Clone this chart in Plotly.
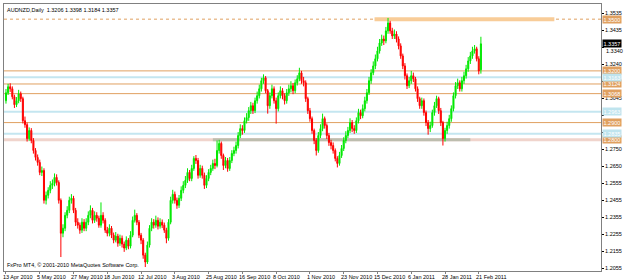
import plotly.graph_objects as go

# ---- data (AUDNZD daily) ----
opens = [1.3027,1.3073,1.3108,1.3096,1.3050,1.3004,1.3027,1.3067,1.3039,1.2911,
1.2888,1.2807,1.2854,1.2796,1.2738,1.2698,1.2669,1.2611,1.2622,1.2449,
1.2478,1.2507,1.2536,1.2547,1.2582,1.2553,1.2449,1.2258,1.2287,1.2362,
1.2391,1.2449,1.2461,1.2391,1.2322,1.2305,1.2276,1.2322,1.2287,1.2322,
1.2362,1.2391,1.2333,1.2362,1.2345,1.2305,1.2362,1.2333,1.2276,1.2258,
1.2287,1.2247,1.2218,1.2241,1.2200,1.2229,1.2195,1.2172,1.2218,1.2183,
1.2247,1.2333,1.2362,1.2322,1.2247,1.2218,1.2131,1.2091,1.2189,1.2287,
1.2322,1.2305,1.2333,1.2299,1.2322,1.2305,1.2276,1.2229,1.2322,1.2449,
1.2484,1.2449,1.2420,1.2461,1.2507,1.2536,1.2565,1.2611,1.2576,1.2634,
1.2692,1.2680,1.2594,1.2634,1.2594,1.2536,1.2576,1.2611,1.2634,1.2663,
1.2651,1.2738,1.2779,1.2709,1.2651,1.2680,1.2634,1.2680,1.2721,1.2738,
1.2767,1.2825,1.2865,1.2854,1.2911,1.2929,1.2969,1.2998,1.2969,1.3027,
1.3056,1.3096,1.3143,1.3160,1.3085,1.2998,1.3056,1.3096,1.3027,1.2981,
1.3056,1.3085,1.3056,1.3027,1.3073,1.3096,1.3114,1.3085,1.3131,1.3154,
1.3189,1.3143,1.3131,1.3039,1.2969,1.2923,1.2854,1.2796,1.2738,1.2825,
1.2865,1.2923,1.2883,1.2825,1.2784,1.2767,1.2738,1.2692,1.2663,1.2709,
1.2750,1.2796,1.2825,1.2854,1.2900,1.2865,1.2854,1.2911,1.2958,1.2940,
1.2981,1.3027,1.3073,1.3143,1.3189,1.3229,1.3270,1.3316,1.3362,1.3385,
1.3374,1.3432,1.3478,1.3432,1.3403,1.3414,1.3385,1.3345,1.3287,1.3229,
1.3172,1.3114,1.3143,1.3172,1.3154,1.3096,1.3039,1.2998,1.3027,1.2958,
1.2900,1.2865,1.2883,1.2958,1.2998,1.3039,1.2969,1.2900,1.2807,1.2854,
1.2883,1.2923,1.2981,1.3056,1.3114,1.3131,1.3096,1.3143,1.3172,1.3212,
1.3258,1.3287,1.3316,1.3328,1.3270,1.3206]

closes = [1.3073,1.3108,1.3096,1.3050,1.3004,1.3027,1.3067,1.3039,1.2911,1.2888,
1.2807,1.2854,1.2796,1.2738,1.2698,1.2669,1.2611,1.2622,1.2449,1.2478,
1.2507,1.2536,1.2547,1.2582,1.2553,1.2449,1.2258,1.2287,1.2362,1.2391,
1.2449,1.2461,1.2391,1.2322,1.2305,1.2276,1.2322,1.2287,1.2322,1.2362,
1.2391,1.2333,1.2362,1.2345,1.2305,1.2362,1.2333,1.2276,1.2258,1.2287,
1.2247,1.2218,1.2241,1.2200,1.2229,1.2195,1.2172,1.2218,1.2183,1.2247,
1.2333,1.2362,1.2322,1.2247,1.2218,1.2131,1.2091,1.2189,1.2287,1.2322,
1.2305,1.2333,1.2299,1.2322,1.2305,1.2276,1.2229,1.2322,1.2449,1.2484,
1.2449,1.2420,1.2461,1.2507,1.2536,1.2565,1.2611,1.2576,1.2634,1.2692,
1.2680,1.2594,1.2634,1.2594,1.2536,1.2576,1.2611,1.2634,1.2663,1.2651,
1.2738,1.2779,1.2709,1.2651,1.2680,1.2634,1.2680,1.2721,1.2738,1.2767,
1.2825,1.2865,1.2854,1.2911,1.2929,1.2969,1.2998,1.2969,1.3027,1.3056,
1.3096,1.3143,1.3160,1.3085,1.2998,1.3056,1.3096,1.3027,1.2981,1.3056,
1.3085,1.3056,1.3027,1.3073,1.3096,1.3114,1.3085,1.3131,1.3154,1.3189,
1.3143,1.3131,1.3039,1.2969,1.2923,1.2854,1.2796,1.2738,1.2825,1.2865,
1.2923,1.2883,1.2825,1.2784,1.2767,1.2738,1.2692,1.2663,1.2709,1.2750,
1.2796,1.2825,1.2854,1.2900,1.2865,1.2854,1.2911,1.2958,1.2940,1.2981,
1.3027,1.3073,1.3143,1.3189,1.3229,1.3270,1.3316,1.3362,1.3385,1.3374,
1.3432,1.3478,1.3432,1.3403,1.3414,1.3385,1.3345,1.3287,1.3229,1.3172,
1.3114,1.3143,1.3172,1.3154,1.3096,1.3039,1.2998,1.3027,1.2958,1.2900,
1.2865,1.2883,1.2958,1.2998,1.3039,1.2969,1.2900,1.2807,1.2854,1.2883,
1.2923,1.2981,1.3056,1.3114,1.3131,1.3096,1.3143,1.3172,1.3212,1.3258,
1.3287,1.3316,1.3328,1.3270,1.3200,1.3357]

highs = [1.3095,1.3125,1.3128,1.3110,1.3062,1.3048,1.3090,1.3080,1.3050,1.2935,
1.2900,1.2872,1.2868,1.2810,1.2752,1.2715,1.2685,1.2645,1.2635,1.2500,
1.2525,1.2560,1.2570,1.2605,1.2600,1.2565,1.2460,1.2310,1.2380,1.2415,
1.2470,1.2485,1.2475,1.2405,1.2345,1.2320,1.2345,1.2340,1.2345,1.2385,
1.2420,1.2405,1.2385,1.2380,1.2360,1.2437,1.2380,1.2345,1.2295,1.2310,
1.2300,1.2262,1.2265,1.2255,1.2250,1.2245,1.2210,1.2240,1.2230,1.2270,
1.2355,1.2395,1.2375,1.2335,1.2260,1.2230,1.2145,1.2210,1.2305,1.2345,
1.2340,1.2360,1.2350,1.2345,1.2338,1.2320,1.2290,1.2340,1.2470,1.2510,
1.2500,1.2465,1.2480,1.2530,1.2560,1.2590,1.2635,1.2625,1.2655,1.2705,
1.2712,1.2695,1.2655,1.2650,1.2610,1.2595,1.2630,1.2655,1.2685,1.2690,
1.2796,1.2800,1.2790,1.2720,1.2700,1.2695,1.2700,1.2740,1.2760,1.2790,
1.2845,1.2890,1.2885,1.2930,1.2955,1.2990,1.3020,1.3015,1.3045,1.3080,
1.3120,1.3160,1.3180,1.3170,1.3095,1.3075,1.3120,1.3110,1.3045,1.3075,
1.3110,1.3100,1.3070,1.3095,1.3120,1.3140,1.3130,1.3150,1.3175,1.3218,
1.3200,1.3165,1.3145,1.3050,1.2985,1.2935,1.2865,1.2810,1.2845,1.2890,
1.2952,1.2935,1.2895,1.2840,1.2800,1.2785,1.2750,1.2705,1.2730,1.2770,
1.2815,1.2850,1.2875,1.2925,1.2915,1.2885,1.2930,1.2980,1.2975,1.3005,
1.3050,1.3095,1.3165,1.3210,1.3255,1.3295,1.3340,1.3385,1.3410,1.3405,
1.3455,1.3507,1.3490,1.3450,1.3440,1.3430,1.3400,1.3360,1.3300,1.3245,
1.3185,1.3165,1.3200,1.3190,1.3165,1.3110,1.3050,1.3045,1.3040,1.2970,
1.2915,1.2905,1.2975,1.3020,1.3056,1.3050,1.2985,1.2910,1.2870,1.2905,
1.2945,1.3000,1.3075,1.3135,1.3155,1.3145,1.3165,1.3195,1.3235,1.3280,
1.3310,1.3340,1.3350,1.3340,1.3285,1.3398]

lows = [1.3010,1.3060,1.3078,1.3035,1.2985,1.2990,1.3012,1.3020,1.2895,1.2870,
1.2790,1.2795,1.2780,1.2720,1.2680,1.2650,1.2595,1.2590,1.2430,1.2425,
1.2460,1.2490,1.2515,1.2530,1.2535,1.2430,1.2120,1.2235,1.2270,1.2345,
1.2375,1.2430,1.2375,1.2300,1.2285,1.2255,1.2260,1.2270,1.2270,1.2305,
1.2345,1.2315,1.2318,1.2325,1.2290,1.2290,1.2315,1.2260,1.2240,1.2240,
1.2230,1.2200,1.2205,1.2180,1.2185,1.2175,1.2150,1.2160,1.2165,1.2170,
1.2235,1.2320,1.2305,1.2230,1.2195,1.2110,1.2062,1.2080,1.2175,1.2270,
1.2285,1.2290,1.2280,1.2285,1.2288,1.2260,1.2200,1.2215,1.2310,1.2430,
1.2430,1.2400,1.2405,1.2445,1.2490,1.2520,1.2550,1.2560,1.2560,1.2620,
1.2660,1.2575,1.2580,1.2575,1.2515,1.2520,1.2560,1.2595,1.2620,1.2630,
1.2640,1.2720,1.2690,1.2625,1.2635,1.2615,1.2620,1.2665,1.2705,1.2720,
1.2750,1.2810,1.2830,1.2840,1.2895,1.2910,1.2950,1.2950,1.2955,1.3010,
1.3040,1.3080,1.3125,1.3070,1.2952,1.2980,1.3040,1.3010,1.2894,1.2965,
1.3040,1.3035,1.3005,1.3010,1.3055,1.3075,1.3065,1.3070,1.3115,1.3140,
1.3125,1.3110,1.3020,1.2950,1.2905,1.2835,1.2775,1.2709,1.2725,1.2810,
1.2850,1.2865,1.2805,1.2765,1.2745,1.2720,1.2675,1.2640,1.2650,1.2695,
1.2735,1.2780,1.2810,1.2840,1.2845,1.2835,1.2840,1.2895,1.2920,1.2925,
1.2965,1.3010,1.3060,1.3125,1.3175,1.3210,1.3255,1.3300,1.3345,1.3350,
1.3360,1.3415,1.3415,1.3385,1.3385,1.3365,1.3325,1.3270,1.3210,1.3150,
1.3095,1.3100,1.3125,1.3135,1.3080,1.3020,1.2980,1.2980,1.2940,1.2880,
1.2830,1.2845,1.2870,1.2940,1.2985,1.2950,1.2880,1.2767,1.2790,1.2835,
1.2865,1.2905,1.2965,1.3040,1.3095,1.3080,1.3080,1.3125,1.3155,1.3195,
1.3240,1.3270,1.3300,1.3255,1.3180,1.3184]

date_labels = ["13 Apr 2010", "5 May 2010", "27 May 2010", "18 Jun 2010", "12 Jul 2010",
               "3 Aug 2010", "25 Aug 2010", "16 Sep 2010", "8 Oct 2010", "1 Nov 2010",
               "23 Nov 2010", "15 Dec 2010", "6 Jan 2011", "28 Jan 2011", "21 Feb 2011"]
bars_per_label = 16

# labels hidden under the level boxes in the reference are left blank;
# the 1.3340 label peeks out below the last-price box and is drawn separately
price_tick_vals = [1.2055, 1.2154, 1.2252, 1.2351, 1.2450, 1.2548, 1.2647, 1.2746,
                   1.2845, 1.2943, 1.3042, 1.3141, 1.3239, 1.3338, 1.3437, 1.3535]
price_tick_text = ["1.2055", "1.2155", "1.2255", "1.2355", "1.2455", "1.2555", "1.2650", "1.2750",
                   "", "", "1.3045", "", "1.3240", "", "1.3435", "1.3535"]
peek_tick_val = 1.3338
peek_tick_text = "1.3340"

orange_levels = [1.3500, 1.3200, 1.3124, 1.3068, 1.2900, 1.2800]
blue_levels = [1.3163, 1.2963, 1.2835]
last_price = 1.3357
symbol_title = "AUDNZD,Daily  1.3206 1.3398 1.3184 1.3357"
copyright_text = "FxPro MT4, © 2001-2010 MetaQuotes Software Corp."

# ---- figure ----
n = len(closes)
xs = list(range(n))
FONT = "Liberation Sans"
ORANGE = "#E0A060"
BLUE = "#C4E6F0"

fig = go.Figure()
fig.add_trace(go.Candlestick(
    x=xs, open=opens, high=highs, low=lows, close=closes,
    increasing=dict(line=dict(color="#00E800", width=1), fillcolor="#00E800"),
    decreasing=dict(line=dict(color="#FF0000", width=1), fillcolor="#FF0000"),
    whiskerwidth=0, hoverinfo="skip", showlegend=False,
))

shapes = []
shapes.append(dict(type="line", xref="paper", x0=0, x1=1, y0=1.2800, y1=1.2800,
                   line=dict(color="#F0D4CC", width=3), layer="below"))
shapes.append(dict(type="line", xref="x", x0=98, x1=220, y0=1.2800, y1=1.2800,
                   line=dict(color="#BDBDAE", width=3), layer="below"))
shapes.append(dict(type="line", xref="paper", x0=0, x1=1, y0=1.3500, y1=1.3500,
                   line=dict(color=ORANGE, width=1, dash="dot"), layer="below"))
shapes.append(dict(type="line", xref="x", x0=174.6, x1=259.8, y0=1.3500, y1=1.3500,
                   line=dict(color="#F8CC98", width=4), layer="below"))
for lv in orange_levels[1:5]:
    shapes.append(dict(type="line", xref="paper", x0=0, x1=1, y0=lv, y1=lv,
                       line=dict(color=ORANGE, width=1), layer="below"))
for lv in blue_levels:
    shapes.append(dict(type="line", xref="paper", x0=0, x1=1, y0=lv, y1=lv,
                       line=dict(color=BLUE, width=2), layer="below"))

annotations = []
annotations.append(dict(xref="paper", yref="paper", x=0, y=1, xanchor="left", yanchor="top",
                        xshift=1, yshift=-1, text=symbol_title, showarrow=False,
                        font=dict(family=FONT, size=5.5, color="#000000")))
annotations.append(dict(xref="paper", yref="paper", x=0, y=0, xanchor="left", yanchor="bottom",
                        xshift=1, yshift=1, text=copyright_text, showarrow=False,
                        font=dict(family=FONT, size=5.5, color="#000000")))
for k, lab in enumerate(date_labels):
    annotations.append(dict(xref="x", yref="paper", x=k * bars_per_label, y=0,
                            xanchor="left", yanchor="top", xshift=-5, yshift=-0.5,
                            text=lab, showarrow=False,
                            font=dict(family=FONT, size=5.5, color="#000000")))
annotations.append(dict(xref="paper", yref="y", x=1, y=peek_tick_val, xanchor="left",
                        yanchor="middle", xshift=3, yshift=-4, text=peek_tick_text,
                        showarrow=False, font=dict(family=FONT, size=5.5, color="#000000")))
for lv in orange_levels:
    annotations.append(dict(xref="paper", yref="y", x=1, y=lv, xanchor="left", yanchor="middle",
                            xshift=1, text=f"{lv:.4f}", showarrow=False, bgcolor="#E0A060",
                            borderpad=0.5, font=dict(family=FONT, size=5.5, color="#FFFFFF")))
for lv in blue_levels:
    annotations.append(dict(xref="paper", yref="y", x=1, y=lv, xanchor="left", yanchor="middle",
                            xshift=1, text=f"{lv:.4f}", showarrow=False, bgcolor="#BFE4EE",
                            borderpad=0.5, font=dict(family=FONT, size=5.5, color="#FFFFFF")))
annotations.append(dict(xref="paper", yref="y", x=1, y=last_price, xanchor="left", yanchor="middle",
                        xshift=1, text=f"{last_price:.4f}", showarrow=False, bgcolor="#000000",
                        borderpad=0.5, font=dict(family=FONT, size=5.5, color="#FFFFFF")))

fig.update_layout(
    width=625, height=280,
    margin=dict(l=3, r=21, t=3, b=9),
    paper_bgcolor="#FFFFFF", plot_bgcolor="#FFFFFF",
    shapes=shapes, annotations=annotations,
    showlegend=False,
    xaxis=dict(range=[-0.94, 281.9], showgrid=False, zeroline=False,
               tickvals=[k * bars_per_label for k in range(len(date_labels))],
               showticklabels=False, ticks="outside", ticklen=2, tickcolor="#808080",
               showline=True, mirror=True, linecolor="#808080", linewidth=1,
               rangeslider=dict(visible=False), fixedrange=True),
    yaxis=dict(side="right", range=[1.2039, 1.3588], showgrid=False, zeroline=False,
               tickvals=price_tick_vals, ticktext=price_tick_text,
               ticks="outside", ticklen=2, tickcolor="#000000",
               tickfont=dict(family=FONT, size=5.5, color="#000000"),
               showline=True, mirror=True, linecolor="#808080", linewidth=1, fixedrange=True),
)

fig.write_html("out.html")
